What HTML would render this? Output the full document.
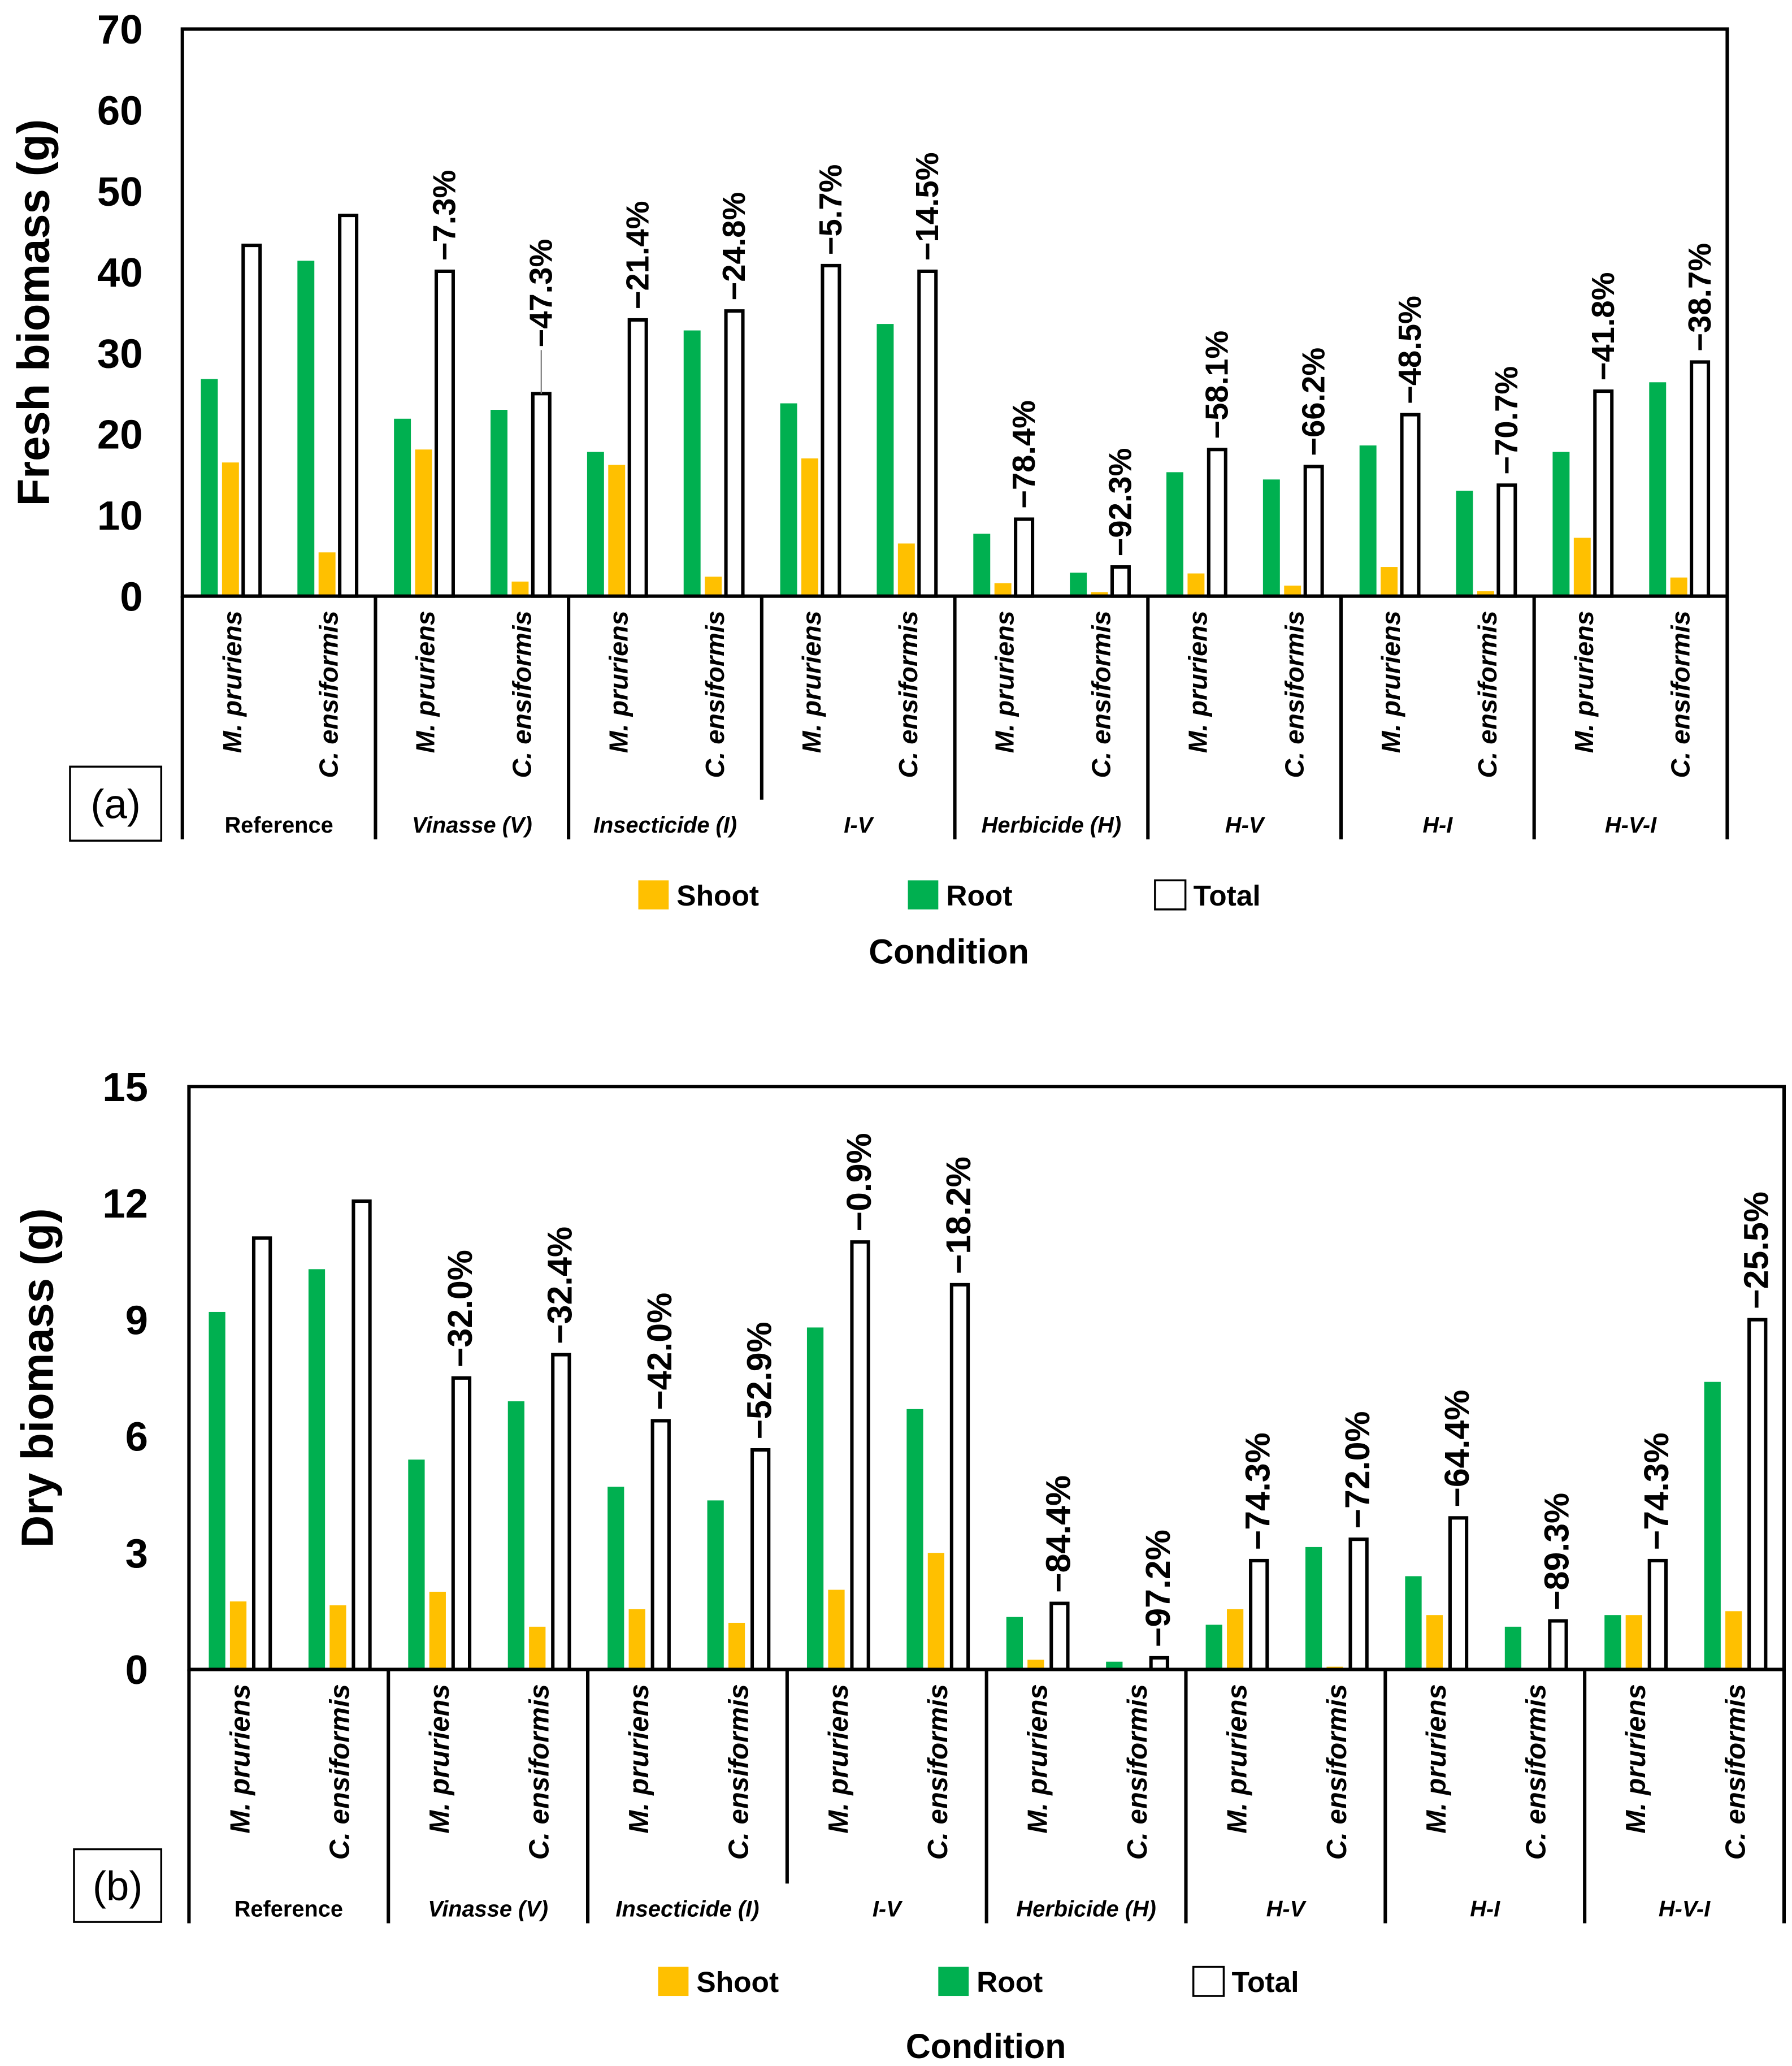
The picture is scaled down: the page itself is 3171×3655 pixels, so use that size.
<!DOCTYPE html>
<html><head><meta charset="utf-8"><style>
html,body{margin:0;padding:0;background:#fff;}
svg{display:block;}
text{font-family:"Liberation Sans",Arial,sans-serif;}
</style></head><body>
<svg id="fig" width="3171" height="3655" viewBox="0 0 1356 1563" preserveAspectRatio="none" xmlns="http://www.w3.org/2000/svg"></svg>
<script>
const groups = ["Reference","Vinasse (V)","Insecticide (I)","I-V","Herbicide (H)","H-V","H-I","H-V-I"];
const species = ["M. pruriens","C. ensiformis"];
// Panel (a) fresh biomass, 16 bars order: group x species
const freshRoot  = [26.8,41.4, 21.9,23.0, 17.8,32.8, 23.8,33.6, 7.7,2.9, 15.3,14.4, 18.6,13.0, 17.8,26.4];
const freshShoot = [16.5,5.4, 18.1,1.8, 16.2,2.4, 17.0,6.5, 1.6,0.5, 2.8,1.3, 3.6,0.6, 7.2,2.3];
const freshTotal = [43.3,47.0, 40.1,25.0, 34.1,35.2, 40.8,40.1, 9.5,3.6, 18.1,16.0, 22.4,13.7, 25.3,28.9];
const freshPct   = ["","","−7.3%","−47.3%","−21.4%","−24.8%","−5.7%","−14.5%","−78.4%","−92.3%","−58.1%","−66.2%","−48.5%","−70.7%","−41.8%","−38.7%"];
const freshTicks = [0,10,20,30,40,50,60,70];
// Panel (b) dry biomass
const dryRoot  = [9.2,10.3, 5.4,6.9, 4.7,4.35, 8.8,6.7, 1.35,0.2, 1.15,3.15, 2.4,1.1, 1.4,7.4];
const dryShoot = [1.75,1.65, 2.0,1.1, 1.55,1.2, 2.05,3.0, 0.25,0, 1.55,0.07, 1.4,0, 1.4,1.5];
const dryTotal = [11.1,12.05, 7.5,8.1, 6.4,5.65, 11.0,9.9, 1.7,0.3, 2.8,3.35, 3.9,1.25, 2.8,9.0];
const dryPct   = ["","","−32.0%","−32.4%","−42.0%","−52.9%","−0.9%","−18.2%","−84.4%","−97.2%","−74.3%","−72.0%","−64.4%","−89.3%","−74.3%","−25.5%"];
const dryTicks = [0,3,6,9,12,15];

const NS="http://www.w3.org/2000/svg";
const svg=document.getElementById('fig');
function mk(tag,attrs,parent,txt){const e=document.createElementNS(NS,tag);for(const k in attrs)e.setAttribute(k,attrs[k]);if(txt!==undefined)e.textContent=txt;(parent||svg).appendChild(e);return e;}

function panel(cfg){
  const g=mk('g',{});
  
  
  const L=cfg.left,R=cfg.right,T=cfg.top,Z=cfg.zero,max=cfg.max;
  const y=v=>Z-(v/max)*(Z-T);
  const gw=(R-L)/groups.length, sw=gw/2;
  // ticks
  cfg.ticks.forEach(t=>{
    const e=mk('text',{x:cfg.tickX,y:y(t)+11,'text-anchor':'end','font-size':cfg.tickFs,'font-weight':'bold',fill:'#000'},g,String(t));
    
    
  });
  const yt=mk('text',{x:0,y:0,transform:`translate(${cfg.titleX},${(T+Z)/2}) rotate(-90)`,'text-anchor':'middle','font-size':cfg.titleFs,'font-weight':'bold',fill:'#000'},g,cfg.title);
  
  
  // bars
  for(let i=0;i<16;i++){
    const x0=L+i*sw;
    const r=mk('rect',{x:x0+cfg.off[0],y:y(cfg.root[i]),width:cfg.bw,height:Z-y(cfg.root[i]),fill:'#00B050'},g);
    
    
    const s=mk('rect',{x:x0+cfg.off[1],y:y(cfg.shoot[i]),width:cfg.bw,height:Z-y(cfg.shoot[i]),fill:'#FFC000'},g);
    
    
    const tt=mk('rect',{x:x0+cfg.off[2],y:y(cfg.total[i]),width:cfg.bw,height:Z-y(cfg.total[i]),fill:'#fff',stroke:'#000','stroke-width':2.6},g);
    
    
    if(cfg.pct[i]){
      const cx=x0+cfg.off[2]+cfg.bw/2+6;
      let by=y(cfg.total[i])-8;
      if(cfg.lead&&cfg.lead[i]){
        const ln=mk('line',{x1:cx-6,y1:y(cfg.total[i]),x2:cx-6,y2:y(cfg.total[i])-cfg.lead[i],stroke:'#888','stroke-width':1},g);
        
        
        by=y(cfg.total[i])-cfg.lead[i]-2;
      }
      const p=mk('text',{x:0,y:0,transform:`translate(${cx+2},${by}) rotate(-90)`,'font-size':cfg.pctFs,'font-weight':'bold',fill:'#000'},g,cfg.pct[i]);
      
      
    }
    const sl=mk('text',{x:0,y:0,transform:`translate(${x0+sw/2+8},${Z+11}) rotate(-90)`,'text-anchor':'end','font-size':cfg.spFs,'font-weight':'bold','font-style':'italic',fill:'#000'},g,species[i%2]);
    
    
  }
  // frame
  const fr=mk('rect',{x:L,y:T,width:R-L,height:Z-T,fill:'none',stroke:'#000','stroke-width':2.6},g);
  
  
  for(let k=0;k<=groups.length;k++){
    const x=L+k*gw;
    const yb=(k===3)?cfg.shortB:cfg.bottom;
    const d=mk('line',{x1:x,y1:Z,x2:x,y2:yb,stroke:'#000','stroke-width':2.6},g);
    
    
  }
  groups.forEach((gn,k)=>{
    const e=mk('text',{x:L+k*gw+gw/2,y:cfg.gy,'text-anchor':'middle','font-size':cfg.gFs,'font-weight':'bold','font-style':k===0?'normal':'italic',fill:'#000'},g,gn);
    
    
  });
  // panel tag
  const bx=mk('rect',{x:cfg.tag[0],y:cfg.tag[1],width:cfg.tag[2],height:cfg.tag[3],fill:'#fff',stroke:'#000','stroke-width':1.5},g);
  
  
  const tx=mk('text',{x:cfg.tag[0]+cfg.tag[2]/2,y:cfg.tag[1]+cfg.tag[3]/2+11,'text-anchor':'middle','font-size':31,fill:'#000'},g,cfg.tagText);
  
  
  // legend
  const lg=mk('g',{},g);
  
  
  const items=[["Shoot","#FFC000","none"],["Root","#00B050","none"],["Total","#fff","#000"]];
  items.forEach((it,k)=>{
    const sx=cfg.legX[k];
    const sq=mk('rect',{x:sx,y:cfg.legY,width:23,height:22,fill:it[1],stroke:it[2],'stroke-width':1.5},lg);
    
    
    const lt=mk('text',{x:sx+29,y:cfg.legY+19,'font-size':22,'font-weight':'bold',fill:'#000'},lg,it[0]);
    
    
  });
  const ct=mk('text',{x:cfg.condX,y:cfg.condY,'text-anchor':'middle','font-size':26,'font-weight':'bold',fill:'#000'},g,'Condition');
  
  
}

panel({name:'panel-a-fresh',left:138,right:1307,top:22,zero:451,max:70,ticks:freshTicks,tickX:108,tickFs:31,
  title:'Fresh biomass (g)',titleX:37,titleFs:34,root:freshRoot,shoot:freshShoot,total:freshTotal,pct:freshPct,
  lead:[0,0,0,0,0,0,0,0,0,0,0,0,0,0,0,0].map((v,i)=>i===3?33:0),
  off:[14,30,46],bw:12.8,pctFs:24,spFs:20,bottom:635,shortB:605,gy:630,gFs:17,
  tag:[53,580,69,56],tagText:'(a)',legX:[483,687,874],legY:666,condX:718,condY:729});

panel({name:'panel-b-dry',left:143,right:1350,top:822,zero:1263,max:15,ticks:dryTicks,tickX:112,tickFs:31,
  title:'Dry biomass (g)',titleX:40,titleFs:34,root:dryRoot,shoot:dryShoot,total:dryTotal,pct:dryPct,lead:null,
  off:[15,31,49],bw:12.5,pctFs:26,spFs:21,bottom:1455,shortB:1425,gy:1450,gFs:17,
  tag:[56,1399,66,55],tagText:'(b)',legX:[498,710,903],legY:1488,condX:746,condY:1557});
</script>
</body></html>
